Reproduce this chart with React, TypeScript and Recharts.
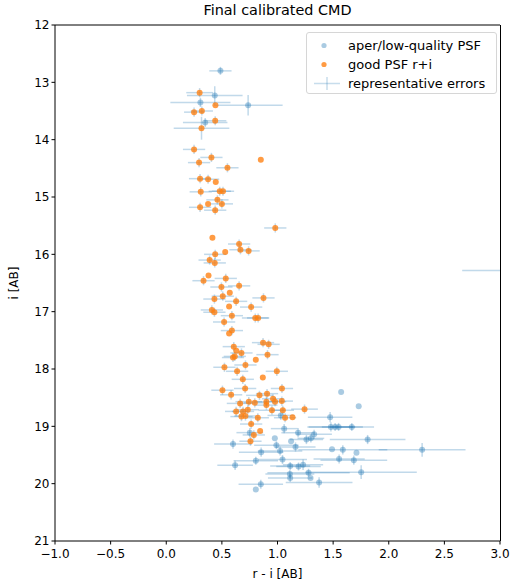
import React from "react";
import { ScatterChart, Scatter, XAxis, YAxis, ErrorBar, ReferenceLine } from "recharts";

// [r-i, i, xerr, yerr]  (err 0 = no error bar drawn)
const lowQuality: number[][] = [
  [0.487, 12.8, 0.1, 0.07], [0.436, 13.23, 0.25, 0.16], [0.307, 13.35, 0.27, 0.08],
  [0.736, 13.4, 0.31, 0.18], [0.35, 13.7, 0.2, 0.08], [3.3, 16.28, 0.64, 0.03],
  [1.572, 18.4, 0, 0], [1.73, 18.65, 0, 0], [1.03, 18.81, 0.12, 0.08],
  [1.473, 18.84, 0.2, 0.09], [1.06, 19.04, 0.12, 0.08], [1.48, 19.01, 0.2, 0.08],
  [1.518, 19.01, 0.25, 0.07], [1.549, 19.01, 0.15, 0.07], [1.668, 19.01, 0.2, 0.07],
  [0.751, 19.11, 0.12, 0.08], [1.185, 19.11, 0.15, 0.08], [1.329, 19.14, 0.16, 0.08],
  [0.976, 19.21, 0, 0], [1.122, 19.26, 0, 0], [1.26, 19.23, 0.15, 0.08],
  [1.3, 19.21, 0.12, 0.07], [1.81, 19.23, 0.34, 0.08], [0.6, 19.31, 0.17, 0.08],
  [0.99, 19.33, 0.2, 0.07], [1.162, 19.36, 0.18, 0.08], [1.49, 19.4, 0, 0],
  [1.587, 19.41, 0.4, 0.08], [1.71, 19.46, 0, 0], [0.853, 19.45, 0.2, 0.08],
  [1.023, 19.43, 0.2, 0.08], [0.805, 19.6, 0.2, 0.07], [1.045, 19.58, 0.22, 0.08],
  [1.554, 19.57, 0.23, 0.08], [1.686, 19.59, 0.3, 0.08], [0.619, 19.68, 0.16, 0.08],
  [1.114, 19.69, 0.18, 0.07], [1.189, 19.7, 0.2, 0.07], [1.23, 19.67, 0.18, 0.09],
  [1.279, 19.81, 0.37, 0.07], [1.111, 19.83, 0.22, 0.07], [1.752, 19.8, 0.5, 0.12],
  [1.114, 19.9, 0.2, 0.07], [1.297, 19.9, 0, 0], [1.374, 19.98, 0.3, 0.09],
  [0.85, 20.01, 0.2, 0.08], [0.805, 20.1, 0, 0], [2.3, 19.41, 0.39, 0.12],
];

const goodPsf: number[][] = [
  [0.3, 13.18, 0.12, 0.08], [0.442, 13.4, 0, 0], [0.25, 13.52, 0.09, 0.08],
  [0.32, 13.5, 0.1, 0.08], [0.44, 13.67, 0.1, 0.08], [0.317, 13.8, 0.25, 0.2],
  [0.25, 14.17, 0.1, 0.08], [0.406, 14.31, 0.1, 0.08], [0.295, 14.4, 0.1, 0.08],
  [0.85, 14.35, 0, 0], [0.55, 14.49, 0.1, 0.08], [0.304, 14.68, 0.1, 0.08],
  [0.376, 14.69, 0.1, 0.08], [0.445, 14.74, 0, 0], [0.31, 14.91, 0.1, 0.08],
  [0.481, 14.9, 0.1, 0.08], [0.51, 14.9, 0.1, 0.08], [0.46, 15.05, 0.1, 0.08],
  [0.376, 15.12, 0, 0], [0.5, 15.12, 0.1, 0.08], [0.304, 15.18, 0.1, 0.08],
  [0.44, 15.23, 0.1, 0.08], [0.98, 15.54, 0.1, 0.08], [0.415, 15.71, 0, 0],
  [0.655, 15.82, 0.1, 0.08], [0.667, 15.92, 0.1, 0.08], [0.74, 15.94, 0.1, 0.08],
  [0.53, 15.96, 0, 0], [0.44, 16.0, 0.1, 0.08], [0.39, 16.1, 0.1, 0.08],
  [0.436, 16.15, 0.1, 0.08], [0.38, 16.37, 0, 0], [0.335, 16.46, 0.1, 0.08],
  [0.535, 16.42, 0.1, 0.08], [0.496, 16.57, 0.1, 0.08], [0.655, 16.55, 0.1, 0.08],
  [0.571, 16.67, 0, 0], [0.508, 16.73, 0.1, 0.08], [0.433, 16.78, 0.1, 0.08],
  [0.628, 16.82, 0.1, 0.08], [0.874, 16.76, 0.1, 0.08], [0.565, 16.91, 0, 0],
  [0.763, 16.92, 0.1, 0.08], [0.41, 16.97, 0.1, 0.08], [0.433, 17.01, 0.1, 0.08],
  [0.59, 17.07, 0.1, 0.08], [0.8, 17.11, 0.12, 0.08], [0.826, 17.11, 0.1, 0.08],
  [0.52, 17.18, 0.1, 0.08], [0.59, 17.33, 0.1, 0.08], [0.565, 17.38, 0, 0],
  [0.87, 17.54, 0.1, 0.08], [0.92, 17.57, 0.1, 0.08], [0.607, 17.61, 0.1, 0.08],
  [0.63, 17.68, 0, 0], [0.676, 17.72, 0.1, 0.08], [0.91, 17.75, 0.1, 0.08],
  [0.616, 17.78, 0.1, 0.08], [0.6, 17.8, 0.1, 0.08], [0.805, 17.84, 0, 0],
  [0.712, 17.93, 0.1, 0.08], [0.523, 17.97, 0.1, 0.08], [0.637, 18.04, 0.1, 0.08],
  [0.994, 18.04, 0.1, 0.08], [0.868, 18.15, 0, 0], [0.688, 18.18, 0.1, 0.08],
  [0.709, 18.34, 0.1, 0.08], [1.04, 18.34, 0.1, 0.08], [0.505, 18.37, 0.1, 0.08],
  [0.583, 18.45, 0.1, 0.08], [0.838, 18.46, 0.12, 0.08], [0.906, 18.43, 0.1, 0.08],
  [0.96, 18.52, 0.1, 0.08], [1.039, 18.56, 0.1, 0.08], [0.9, 18.57, 0.1, 0.08],
  [0.978, 18.57, 0.1, 0.08], [0.664, 18.6, 0.12, 0.08], [0.742, 18.57, 0.12, 0.08],
  [0.796, 18.59, 0.1, 0.08], [0.9, 18.63, 0.1, 0.08], [1.243, 18.7, 0.12, 0.08],
  [0.628, 18.74, 0.1, 0.08], [0.69, 18.74, 0.1, 0.08], [0.733, 18.71, 0.1, 0.08],
  [0.95, 18.72, 0.12, 0.08], [1.048, 18.72, 0.1, 0.08], [0.676, 18.83, 0.1, 0.08],
  [0.712, 18.82, 0.1, 0.08], [0.823, 18.85, 0.1, 0.08], [1.068, 18.85, 0.1, 0.08],
  [1.135, 18.84, 0, 0], [0.763, 18.96, 0.1, 0.08], [0.844, 19.08, 0, 0],
  [0.787, 19.15, 0.1, 0.08], [0.757, 19.26, 0.1, 0.08],
];

const xTicks = [-1, -0.5, 0, 0.5, 1, 1.5, 2, 2.5, 3];
const yTicks = [12, 13, 14, 15, 16, 17, 18, 19, 20, 21];

const BLUE = "#1f77b4";
const ORANGE = "#ff7f0e";
const FONT = "DejaVu Sans, sans-serif";

const toPts = (rows: number[][]) => rows.map(([x, y, ex, ey]) => ({ x, y, ex, ey }));
const bluePts = toPts(lowQuality);
const orangePts = toPts(goodPsf);
const errPts = [...bluePts, ...orangePts].filter((p) => p.ex > 0);

const fmtX = (v: number) => (v < 0 ? "\u2212" + Math.abs(v).toFixed(1) : v.toFixed(1));

const dot = (color: string, opacity: number) => (p: any) =>
  <circle cx={p.cx} cy={p.cy} r={3} fill={color} fillOpacity={opacity} />;

export default function App() {
  const tick = { fontSize: 12, fill: "#000", fontFamily: FONT };
  return (
    <div style={{ position: "absolute", left: 0, top: 0, width: 511, height: 579, fontFamily: FONT, overflow: "hidden" }}>
      <div style={{ position: "absolute", left: 55, width: 445, top: 2, textAlign: "center", fontSize: 14.4 }}>
        Final calibrated CMD
      </div>
      <ScatterChart width={511} height={579} margin={{ top: 25, right: 11, bottom: 0, left: 0 }}>
        <XAxis
          dataKey="x"
          type="number"
          domain={[-1, 3]}
          ticks={xTicks}
          allowDataOverflow
          tickFormatter={fmtX}
          tick={{ ...tick, dy: 3 }}
          tickSize={3.5}
          stroke="#000"
          tickLine={{ stroke: "#000" }}
          height={38}
          label={{ value: "r - i [AB]", position: "insideBottom", offset: 1, fontSize: 12, fill: "#000" }}
        />
        <YAxis
          dataKey="y"
          type="number"
          domain={[12, 21]}
          ticks={yTicks}
          reversed
          allowDataOverflow
          tick={tick}
          tickSize={3.5}
          stroke="#000"
          tickLine={{ stroke: "#000" }}
          width={55}
          label={{ value: "i [AB]", angle: -90, position: "insideLeft", offset: 14, fontSize: 12, fill: "#000", style: { textAnchor: "middle" } }}
        />
        <ReferenceLine y={12} stroke="#000" />
        <Scatter data={bluePts} shape={dot(BLUE, 0.38)} isAnimationActive={false} />
        <Scatter data={orangePts} shape={dot(ORANGE, 0.78)} isAnimationActive={false} />
        <Scatter data={errPts} shape={() => <g />} isAnimationActive={false}>
          <ErrorBar dataKey="ex" direction="x" width={0} stroke={BLUE} strokeOpacity={0.28} strokeWidth={1.5} />
          <ErrorBar dataKey="ey" direction="y" width={0} stroke={BLUE} strokeOpacity={0.28} strokeWidth={1.5} />
        </Scatter>
      </ScatterChart>
      {/* mask the part of the overflowing error bar beyond the right spine */}
      <div style={{ position: "absolute", left: 500, top: 25, width: 11, height: 516, background: "#fff", borderLeft: "1px solid #000" }} />
      <div
        style={{
          position: "absolute", left: 306, top: 32, width: 189, height: 60,
          border: "1px solid #d6d6d6", borderRadius: 3, background: "rgba(255,255,255,0.8)", fontSize: 13,
        }}
      >
        {[
          { label: "aper/low-quality PSF", kind: "blue" },
          { label: "good PSF r+i", kind: "orange" },
          { label: "representative errors", kind: "err" },
        ].map((r, i) => (
          <div key={i} style={{ position: "absolute", left: 0, top: 3 + i * 19, height: 19, display: "flex", alignItems: "center" }}>
            <svg width={40} height={19} style={{ display: "block" }}>
              {r.kind === "err" ? (
                <g stroke={BLUE} strokeOpacity={0.25} strokeWidth={1.5}>
                  <line x1={7} x2={33} y1={9.5} y2={9.5} />
                  <line x1={20} x2={20} y1={3} y2={16} />
                </g>
              ) : (
                <circle cx={17} cy={9.5} r={2.6} fill={r.kind === "blue" ? BLUE : ORANGE} fillOpacity={r.kind === "blue" ? 0.38 : 0.78} />
              )}
            </svg>
            <span style={{ whiteSpace: "nowrap", marginLeft: 1 }}>{r.label}</span>
          </div>
        ))}
      </div>
    </div>
  );
}
